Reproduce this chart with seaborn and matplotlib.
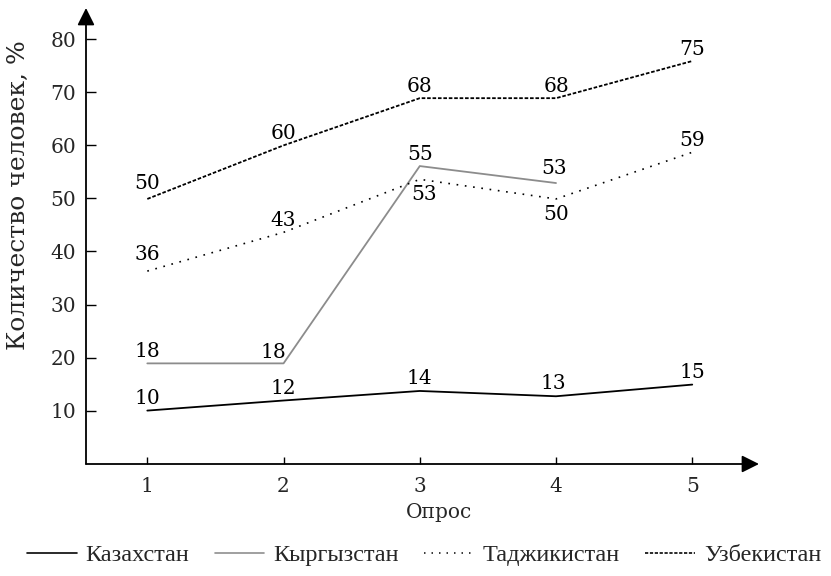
import matplotlib
matplotlib.use("Agg")
import matplotlib.pyplot as plt
import seaborn as sns
from matplotlib.lines import Line2D

sns.set_theme(style="white")
plt.rcParams["font.family"] = ["DejaVu Serif", "DejaVu Sans"]

surveys = [1, 2, 3, 4, 5]
series_names = ["Казахстан", "Кыргызстан", "Таджикистан", "Узбекистан"]
kaz_values = [10, 11.9, 13.7, 12.7, 14.9]
kaz_labels = ["10", "12", "14", "13", "15"]
kgz_values = [18.9, 18.9, 56.1, 52.9]
kgz_labels = ["18", "18", "55", "53"]
taj_values = [36.3, 43.6, 53.6, 49.9, 58.7]
taj_labels = ["36", "43", "53", "50", "59"]
uzb_values = [49.9, 60.0, 68.9, 68.9, 75.9]
uzb_labels = ["50", "60", "68", "68", "75"]
y_ticks = [10, 20, 30, 40, 50, 60, 70, 80]
x_label = "Опрос"
y_label = "Количество человек, %"

W, H = 831, 576
fig = plt.figure(figsize=(W / 100, H / 100), dpi=100)
ax = fig.add_axes([86 / W, (H - 464) / H, (759 - 86) / W, (464 - 8) / H])
ax.set_xlim(0.55, 5.49)
ax.set_ylim(-0.07, 85.9)

styles = [
    dict(color="black", lw=1.3, linestyle="-"),
    dict(color="#8c8c8c", lw=1.3, linestyle="-"),
    dict(color="black", lw=1.2, linestyle=(0, (1, 4))),
    dict(color="black", lw=1.3, linestyle=(0, (2, 1))),
]
all_vals = [kaz_values, kgz_values, taj_values, uzb_values]
all_labels = [kaz_labels, kgz_labels, taj_labels, uzb_labels]

# special label offsets (pixels) by (series, point index)
special = {(1, 1): (-10, 11), (2, 0): (0, 17), (2, 2): (4, -15), (2, 3): (0, -16),
           (1, 3): (-2, 15), (0, 3): (-3, 13), (3, 0): (0, 15)}

for si, (vals, labs, st) in enumerate(zip(all_vals, all_labels, styles)):
    xs = surveys[:len(vals)]
    sns.lineplot(x=xs, y=vals, ax=ax, color=st["color"], lw=st["lw"],
                 linestyle=st["linestyle"], legend=False)
    for pi, (xv, yv, lab) in enumerate(zip(xs, vals, labs)):
        dx, dy = special.get((si, pi), (0, 12))
        ax.annotate(lab, (xv, yv), xytext=(dx * 0.72, dy * 0.72), textcoords="offset points",
                    ha="center", va="center", fontsize=14.5, color="black")

for sp in ax.spines.values():
    sp.set_visible(False)
ax.annotate("", xy=(1, 0), xytext=(0, 0), xycoords="axes fraction",
            arrowprops=dict(arrowstyle="-|>", color="black", lw=1.3, mutation_scale=26,
                            shrinkA=0, shrinkB=0))
ax.annotate("", xy=(0, 1), xytext=(0, 0), xycoords="axes fraction",
            arrowprops=dict(arrowstyle="-|>", color="black", lw=1.3, mutation_scale=26,
                            shrinkA=0, shrinkB=0))

ax.set_xticks(surveys)
ax.set_xticklabels([str(s) for s in surveys])
ax.set_yticks(y_ticks)
ax.set_yticklabels([str(t) for t in y_ticks])
ax.tick_params(axis="y", direction="in", length=7, width=1, color="black", pad=7,
               labelsize=14.5, left=True)
ax.tick_params(axis="x", direction="in", length=5, width=1, color="black", pad=9,
               labelsize=14.5, bottom=True)
ax.grid(False)
ax.set_facecolor("white")

fig.text(439 / W, 1 - 513 / H, x_label, ha="center", va="center", fontsize=14.5)
fig.text(18 / W, 1 - 195 / H, y_label, ha="center", va="center", rotation=90, fontsize=18)

handles = [Line2D([0], [0], color=st["color"], lw=st["lw"] * 0.9, linestyle=st["linestyle"])
           for st in styles]
fig.legend(handles, series_names, loc="center", bbox_to_anchor=(424 / W, 1 - 555 / H),
           ncol=4, frameon=False, handlelength=2.05, handletextpad=0.36, columnspacing=1.05,
           borderpad=0.2, prop={"family": "Liberation Serif", "size": 17.5})

fig.savefig("out.png", dpi=100, facecolor="white")
